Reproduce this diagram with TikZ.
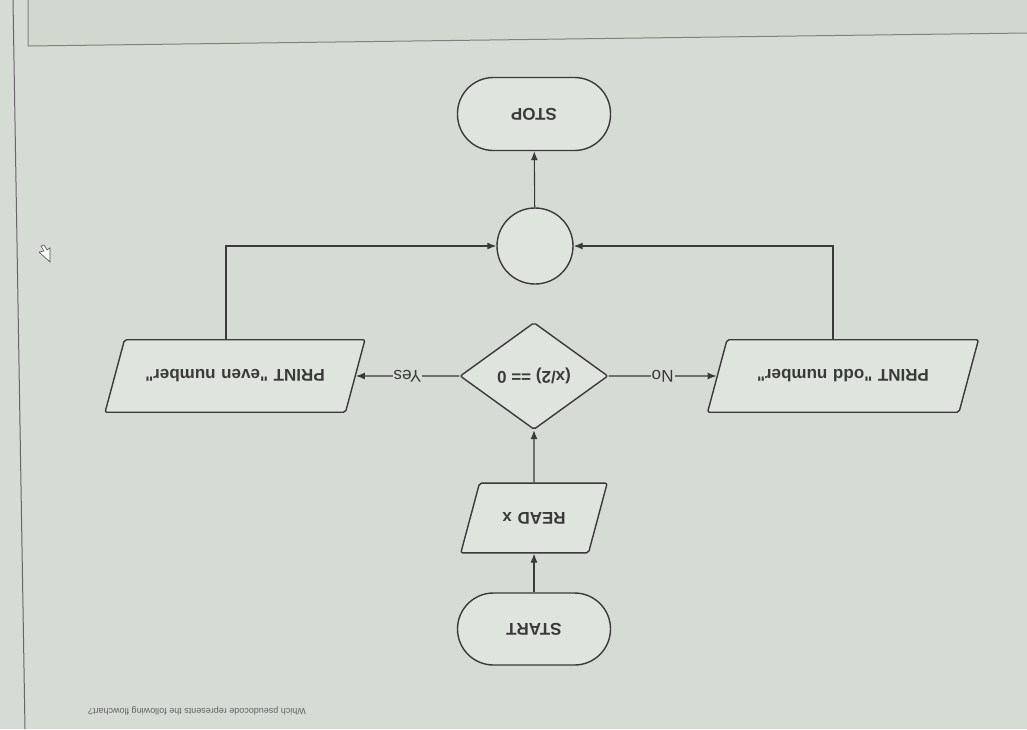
\documentclass[tikz,border=0pt]{standalone}
\usepackage{fontspec}
\setmainfont{Liberation Sans}[Ligatures=TeXOff]
\usepackage{graphicx}
\usetikzlibrary{shapes.geometric,arrows.meta}

\definecolor{screen}{HTML}{D7DBD6}
\definecolor{band}{HTML}{D2D8D0}
\definecolor{boxfill}{HTML}{DFE5DE}
\definecolor{ink}{HTML}{3A3A3A}

\newcommand{\upsd}[1]{\rotatebox[origin=c]{180}{#1}}

\begin{document}
\begin{tikzpicture}[x=1pt, y=-1pt, >={Latex[length=9pt,width=7pt]},
  every box/.style={draw=ink, fill=boxfill, line width=1.4pt, text=ink,
    font=\bfseries\fontsize{17}{20}\selectfont},
  terminal/.style={every box, rectangle, rounded corners=36pt,
    minimum width=153pt, minimum height=73pt},
  io/.style={every box, trapezium, trapezium left angle=75,
    trapezium right angle=105, rounded corners=2pt,
    inner xsep=0pt, inner ysep=30pt, align=center},
  decision/.style={every box, diamond, rounded corners=2pt,
    minimum width=148pt, minimum height=107pt},
  junction/.style={every box, circle, minimum size=76pt},
  flow/.style={->, draw=ink, line width=1.1pt},
  answer/.style={fill=screen, inner sep=1pt, text=ink,
    font=\fontsize{17}{20}\selectfont}]

\useasboundingbox (0,0) rectangle (1027,729);
\fill[screen] (0,0) rectangle (1027,729);
\fill[band] (28,0) -- (28,46) -- (1027,33) -- (1027,0) -- cycle;
\draw[gray, line width=1pt] (28,0) -- (28,46) -- (1027,33);
\draw[gray!80!black, line width=1pt] (13,0) -- (25,729);

% flowchart, shown upside down
\node [terminal] (stop) at (534,114) {\upsd{STOP}};
\node [junction] (join) at (535,246) {};
\node [decision] (test) at (534,376) {\upsd{(x/2) == 0}};
\node [io, text width=221pt] (even) at (235,376) {\upsd{PRINT "even number"}};
\node [io, text width=232pt] (odd) at (843,376) {\upsd{PRINT "odd number"}};
\node [io, text width=109pt, inner ysep=29pt] (read) at (534,518) {\upsd{READ x}};
\node [terminal, minimum height=72pt] (start) at (534,629) {\upsd{START}};

\draw [flow] (start) -- (read);
\draw [flow] (read) -- (test);
\draw [flow] (test) -- node [answer] {\upsd{Yes}} (even);
\draw [flow] (test) -- node [answer] {\upsd{No}} (odd);
\draw [flow] ([xshift=-9pt]even.north) |- (join);
\draw [flow] ([xshift=-10pt]odd.north) |- (join);
\draw [flow] (join) -- (stop);

% question and cursor
\node [text=ink!80, font=\fontsize{9}{11}\selectfont] (question) at (197,711)
  {\upsd{Which pseudocode represents the following flowchart?}};
\filldraw [fill=white, draw=gray!60!black, line width=0.6pt]
  (50,262) -- (39,252) -- (44,251) -- (41,246) -- (44,245) -- (47,250) -- (50,248) -- cycle;

\end{tikzpicture}
\end{document}
